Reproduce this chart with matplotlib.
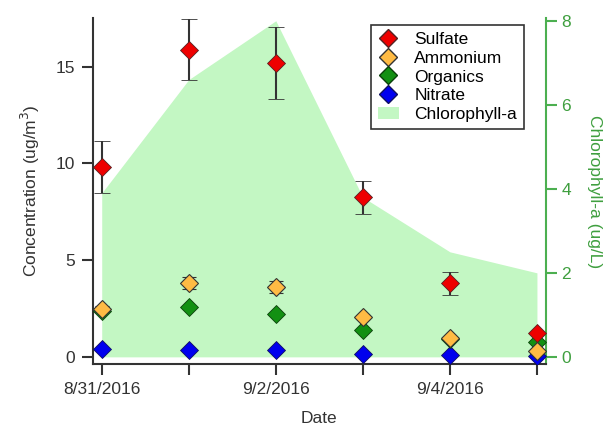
import numpy as np
import pandas as pd
import matplotlib
matplotlib.use('Agg')
import matplotlib.pyplot as plt
from matplotlib.patches import Patch
from matplotlib.lines import Line2D

plt.rcParams['font.family'] = ['Liberation Sans', 'DejaVu Sans']

dates = ['8/31/2016', '9/1/2016', '9/2/2016', '9/3/2016', '9/4/2016', '9/5/2016']
tick_labels = ['8/31/2016', '', '9/2/2016', '', '9/4/2016', '']

sulfate = [9.8, 15.9, 15.2, 8.25, 3.8, 1.25]
sulfate_err = [1.35, 1.6, 1.85, 0.85, 0.6, 0.0]
ammonium = [2.45, 3.8, 3.6, 2.05, 0.95, 0.3]
ammonium_err = [0.15, 0.3, 0.3, 0.1, 0.05, 0.0]
organics = [2.35, 2.55, 2.2, 1.4, 0.9, 0.75]
nitrate = [0.42, 0.35, 0.32, 0.15, 0.08, 0.03]
chlorophyll = [3.9, 6.6, 8.0, 3.8, 2.5, 2.0]

x = np.arange(len(dates))
green = '#4caf50'
green_txt = '#3f9f3f'
fill_col = '#c3f7c3'
fs = 12.5

fig = plt.figure(figsize=(6.1, 4.29), dpi=100)
ax = fig.add_axes([0.1525, 0.1515, 0.742, 0.806])
ax2 = ax.twinx()

# Chlorophyll area on the right axis, behind the markers
ax2.fill_between(x, 0, chlorophyll, color=fill_col, linewidth=0)
ax.set_zorder(ax2.get_zorder() + 1)
ax.patch.set_visible(False)

ms = 9.5
ax.plot(x, nitrate, 'D', color='#0000ee', mec='#101060', mew=0.6, ms=ms, zorder=3)
ax.plot(x, organics, 'D', color='#129012', mec='#0a400a', mew=0.6, ms=ms, zorder=4)
ax.errorbar(x, ammonium, yerr=ammonium_err, fmt='D', color='#ffbb44', mec='#333333',
            mew=0.8, ms=ms, ecolor='#333333', elinewidth=1.5, capsize=5, capthick=1.5, zorder=5)
ax.errorbar(x, sulfate, yerr=sulfate_err, fmt='D', color='#ee0000', mec='#552222',
            mew=0.6, ms=ms, ecolor='#333333', elinewidth=1.5, capsize=6, capthick=1.5, zorder=6)

ax.set_xlim(-0.1, 5.1)
ax.set_ylim(-0.38, 17.52)
ax2.set_ylim(-0.17, 8.06)

ax.set_xticks(x)
ax.set_xticklabels(tick_labels)
ax.set_yticks([0, 5, 10, 15])
ax2.set_yticks([0, 2, 4, 6, 8])

ax.spines['top'].set_visible(False)
ax2.spines['top'].set_visible(False)
ax.spines['right'].set_visible(False)
ax2.spines['left'].set_visible(False)
ax2.spines['bottom'].set_visible(False)
ax.spines['left'].set_color('#333333')
ax.spines['bottom'].set_color('#333333')
ax.spines['left'].set_linewidth(1.5)
ax.spines['bottom'].set_linewidth(1.5)
ax2.spines['right'].set_color(green)
ax2.spines['right'].set_linewidth(1.5)

ax.tick_params(axis='both', direction='out', length=8, width=1.5, color='#333333',
               labelsize=fs, labelcolor='#333333', pad=5)
ax2.tick_params(axis='y', direction='out', length=8, width=1.5, color=green,
                labelsize=fs, labelcolor=green_txt)

ax.set_xlabel('Date', fontsize=fs, color='#333333', labelpad=10)
ax.set_ylabel('Concentration (ug/m$^3$)', fontsize=fs, color='#333333', labelpad=10)
ax2.set_ylabel('Chlorophyll-a (ug/L)', fontsize=fs, color=green_txt, rotation=270, labelpad=22)

handles = [
    Line2D([], [], marker='D', ls='', color='#ee0000', mec='#552222', ms=ms),
    Line2D([], [], marker='D', ls='', color='#ffbb44', mec='#333333', ms=ms),
    Line2D([], [], marker='D', ls='', color='#129012', mec='#0a400a', ms=ms),
    Line2D([], [], marker='D', ls='', color='#0000ee', mec='#101060', ms=ms),
    Patch(facecolor=fill_col, edgecolor='none'),
]
leg = ax.legend(handles, ['Sulfate', 'Ammonium', 'Organics', 'Nitrate', 'Chlorophyll-a'],
                loc='upper left', bbox_to_anchor=(0.595, 1.005), fontsize=fs, frameon=True,
                fancybox=False, edgecolor='black', handlelength=1.2, handletextpad=0.9,
                labelspacing=0.2, borderpad=0.4)
leg.get_frame().set_linewidth(1.2)

fig.savefig('out.png', dpi=100)
